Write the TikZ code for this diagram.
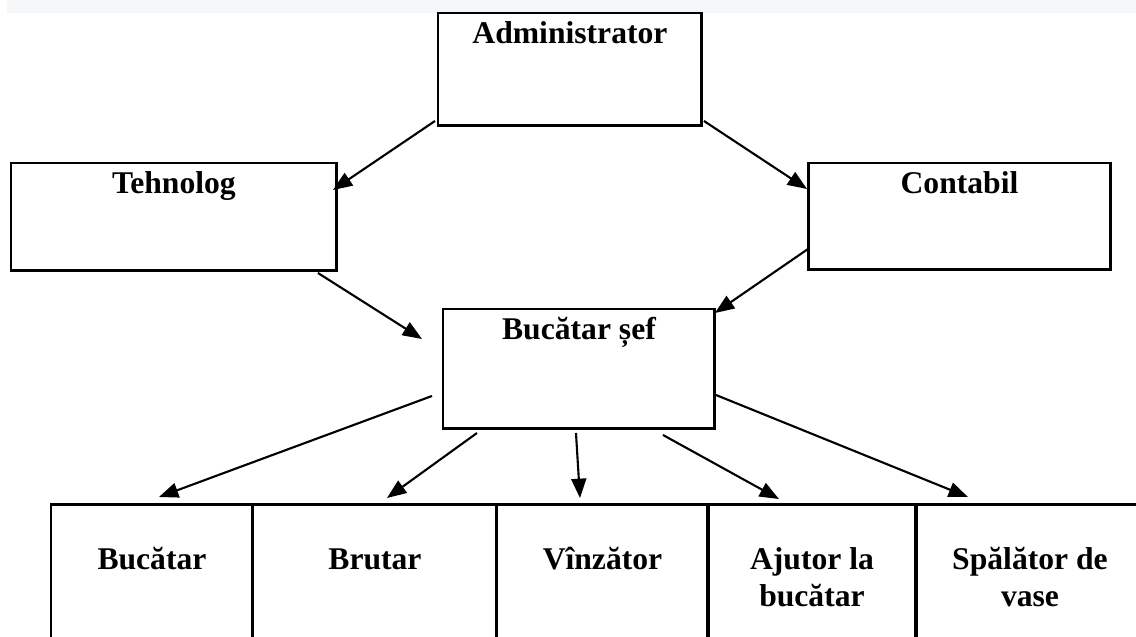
\documentclass[tikz,border=0pt]{standalone}
\usepackage{fontspec}
\setmainfont{Liberation Serif}
\usetikzlibrary{arrows.meta,calc}
\definecolor{bandgray}{HTML}{F6F7F9}
\begin{document}
\begin{tikzpicture}[x=0.02cm,y=-0.02cm,>={Triangle[length=11pt,width=8.5pt]},
  box/.style={draw,line width=1.7pt,outer sep=0pt,inner sep=0pt,anchor=north west},
  title/.style={font=\fontsize{18}{21.5}\selectfont\bfseries,anchor=base,align=center},
  arrow/.style={->,line width=1.2pt}]
\useasboundingbox (0,0) rectangle (1136,636);
\clip (0,0) rectangle (1136,636);
\fill[bandgray] (7,0) rectangle (1136,13);
% upper boxes
\node[box,minimum width=5.28cm,minimum height=2.26cm,
  label={[title,yshift=-0.62cm]north:Administrator}] (admin) at (438,13) {};
\node[box,minimum width=6.52cm,minimum height=2.16cm,
  label={[title,yshift=-0.62cm]north:Tehnolog}] (tehno) at (11,163) {};
\node[box,minimum width=6.06cm,minimum height=2.14cm,
  label={[title,yshift=-0.62cm]north:Contabil}] (conta) at (808,163) {};
\node[box,minimum width=5.44cm,minimum height=2.40cm,
  label={[title,yshift=-0.62cm]north:Bucătar șef}] (bucsef) at (443,309) {};
% bottom row
\node[box,minimum width=4.04cm,minimum height=3cm,
  label={[title,yshift=-1.32cm]north:Bucătar}] (bucatar) at (51,504) {};
\node[box,minimum width=4.88cm,minimum height=3cm,
  label={[title,yshift=-1.32cm]north:Brutar}] (brutar) at (253,504) {};
\node[box,minimum width=4.22cm,minimum height=3cm,
  label={[title,yshift=-1.32cm]north:Vînzător}] (vinzator) at (497,504) {};
\node[box,minimum width=4.16cm,minimum height=3cm,
  label={[title,yshift=-2.06cm]north:Ajutor la\\bucătar}] (ajutor) at (708,504) {};
\node[box,minimum width=4.56cm,minimum height=3cm,
  label={[title,yshift=-2.06cm]north:Spălător de\\vase}] (spalator) at (916,504) {};
% arrows
\draw[arrow] ($(admin.south west)+(-3,-5)$) -- ($(tehno.north east)+(-4,27)$);
\draw[arrow] ($(admin.south east)+(2,-5)$) -- ($(conta.north west)+(-1,26)$);
\draw[arrow] ($(tehno.south east)+(-19,2)$) -- ($(bucsef.north west)+(-21,30)$);
\draw[arrow] ($(conta.south west)+(0,-21)$) -- ($(bucsef.north east)+(0,4)$);
\draw[arrow] ($(bucsef.south west)+(-11,-33)$) -- ($(bucatar.north)+(7,-7)$);
\draw[arrow] ($(bucsef.south west)+(34,4)$) -- ($(brutar.north)+(12,-6)$);
\draw[arrow] ($(bucsef.south)+(-3,4)$) -- ($(vinzator.north)+(-22.5,-6)$);
\draw[arrow] ($(bucsef.south)+(84,6)$) -- ($(ajutor.north)+(-33,-5)$);
\draw[arrow] ($(bucsef.south east)+(1,-34)$) -- ($(spalator.north)+(-62,-7)$);
\end{tikzpicture}
\end{document}
